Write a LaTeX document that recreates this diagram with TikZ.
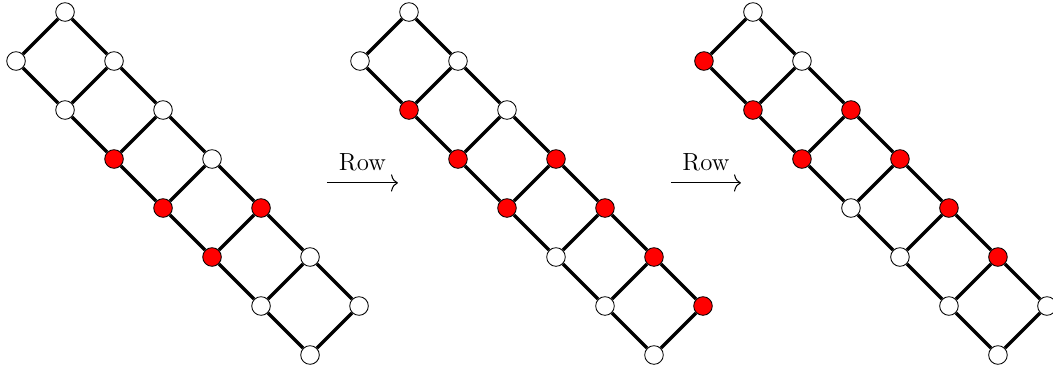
\documentclass[tikz,border=0pt]{standalone}
\usetikzlibrary{arrows.meta}
\newcommand{\ladder}[3]{%
  % #1 name, #2 shift, #3 colours per rung
  \foreach \i/\ca/\cb in {#3} {
    \node[vtx, fill=\ca] (#1-\i-0) at ({#2+1.327+\i}, {7.388-\i}) {};
    \node[vtx, fill=\cb] (#1-\i-1) at ({#2+0.327+\i}, {6.388-\i}) {};
  }
  \foreach \i in {0,...,6} \draw[edge] (#1-\i-0) -- (#1-\i-1);
  \foreach \i [evaluate=\i as \k using int(\i+1)] in {0,...,5} {
    \draw[edge] (#1-\i-0) -- (#1-\k-0);
    \draw[edge] (#1-\i-1) -- (#1-\k-1);
  }
}
\begin{document}
\begin{tikzpicture}[
    vtx/.style = {circle, draw, fill=white, minimum size=0.38cm, inner sep=0pt, line width=0.5pt},
    edge/.style = {line width=2pt},
    rowarrow/.style = {-{To[length=4pt, width=10pt]}, line width=0.6pt}]
  \useasboundingbox (0,0) rectangle (21.49,7.633);

  \ladder{A}{0}{0/white/white, 1/white/white, 2/white/red, 3/white/red, 4/red/red, 5/white/white, 6/white/white}
  \ladder{B}{7.02}{0/white/white, 1/white/red, 2/white/red, 3/red/red, 4/red/white, 5/red/white, 6/red/white}
  \ladder{C}{14.04}{0/white/red, 1/white/red, 2/red/red, 3/red/white, 4/red/white, 5/red/white, 6/white/white}

  \coordinate (r1a) at (6.67, 3.90);
  \coordinate (r1b) at (8.12, 3.90);
  \coordinate (r2a) at (13.69, 3.90);
  \coordinate (r2b) at (15.12, 3.90);
  \draw[rowarrow] (r1a) -- (r1b) node[midway, above=3pt, font=\Large] {Row};
  \draw[rowarrow] (r2a) -- (r2b) node[midway, above=3pt, font=\Large] {Row};

\end{tikzpicture}
\end{document}
